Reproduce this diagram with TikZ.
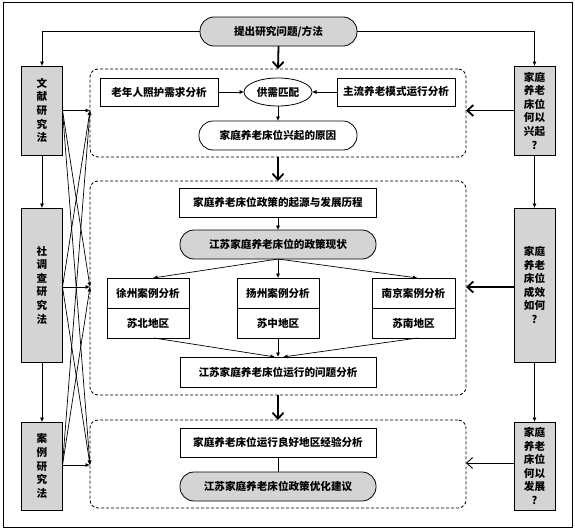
\documentclass[tikz,border=0pt]{standalone}
\usepackage{fontspec}
\newfontfamily\cjk{Noto Sans CJK SC}
\usetikzlibrary{arrows.meta,shapes.geometric}
\definecolor{gfill}{RGB}{212,212,212}
\begin{document}
\begin{tikzpicture}[x=1pt,y=-1pt,line width=0.8pt,
  font=\cjk\bfseries\fontsize{10.6}{13.6}\selectfont,
  every node/.style={inner sep=0pt,outer sep=0pt},
  rbox/.style={draw,fill=white,minimum height=29pt},
  pill/.style={draw,rounded corners=14pt,minimum height=29pt},
  gpill/.style={pill,fill=gfill},
  side/.style={draw,fill=gfill,minimum width=41pt,align=center},
  region/.style={draw,dash pattern=on 3pt off 2pt,rounded corners=8pt,minimum width=376pt},
  thin/.style={-{Latex[length=4.5pt,width=4pt]},line width=0.7pt},
  thick/.style={-{Straight Barb[length=6pt,width=11pt]},line width=1.8pt},
  vee/.style={-{Straight Barb[length=6pt,width=11pt]},line width=0.9pt}]
\useasboundingbox (0,0) rectangle (575,530);
\draw[line width=0.9pt] (3,2) rectangle (572,527);

% top
\node[gpill,minimum width=157pt] (top) at (278.5,31.5) {提出研究问题/方法};

% regions
\node[region,minimum height=88pt] (R1) at (278,113) {};
\node[region,minimum height=214pt] (R2) at (278,288) {};
\node[region,minimum height=88pt] (R3) at (278,464) {};

% left method boxes
\node[side,minimum height=89pt] (L1) at (42,110.5) {文\\献\\研\\究\\法};
\node[side,minimum height=154pt] (L2) at (42,285) {社\\调\\查\\研\\究\\法};
\node[side,minimum height=88pt] (L3) at (42,466) {案\\例\\研\\究\\法};

% right question boxes
\node[side,minimum height=89pt] (Q1) at (534.5,110.5) {家庭\\养老\\床位\\何以\\兴起\\?};
\node[side,minimum height=154pt] (Q2) at (534.5,285) {家庭\\养老\\床位\\成效\\如何\\?};
\node[side,minimum height=88pt] (Q3) at (534.5,466) {家庭\\养老\\床位\\何以\\发展\\?};

% region 1
\node[rbox,minimum width=118pt,minimum height=28pt] (A1) at (159,92) {老年人照护需求分析};
\node[draw,ellipse,minimum width=68pt,minimum height=28pt] (M) at (278,92) {供需匹配};
\node[rbox,minimum width=118pt,minimum height=28pt] (A2) at (396,92) {主流养老模式运行分析};
\node[pill,minimum width=158pt] (B) at (278,135.5) {家庭养老床位兴起的原因};

% region 2
\node[rbox,minimum width=197pt] (C1) at (278,202.5) {家庭养老床位政策的起源与发展历程};
\node[gpill,minimum width=196pt] (C2) at (278,244.5) {江苏家庭养老床位的政策现状};
\node[rbox,minimum width=82pt,minimum height=30pt] (X1t) at (148,293) {徐州案例分析};
\node[rbox,minimum width=82pt,minimum height=30pt] (X1b) at (148,323) {苏北地区};
\node[rbox,minimum width=82pt,minimum height=30pt] (X2t) at (278,293) {扬州案例分析};
\node[rbox,minimum width=82pt,minimum height=30pt] (X2b) at (278,323) {苏中地区};
\node[rbox,minimum width=83pt,minimum height=30pt] (X3t) at (413.5,293) {南京案例分析};
\node[rbox,minimum width=83pt,minimum height=30pt] (X3b) at (413.5,323) {苏南地区};
\node[rbox,minimum width=196pt,minimum height=30pt] (C3) at (278,372) {江苏家庭养老床位运行的问题分析};

% region 3
\node[rbox,minimum width=196pt] (D1) at (278,442.5) {家庭养老床位运行良好地区经验分析};
\node[gpill,minimum width=196pt] (D2) at (278,486.5) {江苏家庭养老床位政策优化建议};

% top connections
\draw[thin] (top.west) -| (L1.north);
\draw[thin] (top.east) -| (Q1.north);
\draw[thin] (L1.south) -- (L2.north);
\draw[thin] (L2.south) -- (L3.north);
\draw[thin] (Q1.south) -- (Q2.north);
\draw[thin] (Q2.south) -- (Q3.north);

% thick flow arrows
\draw[thick] (top.south) -- (R1.north);
\draw[thick] (R1.south) -- (R2.north);
\draw[thick] (R2.south) -- (R3.north);

% right to regions
\coordinate (u1) at (Q1.west -| R1.east);
\coordinate (u2) at ([yshift=-2pt]Q2.west -| R2.east);
\coordinate (u3) at ([yshift=3pt]Q3.west -| R3.east);
\draw[thick] (Q1.west) -- (u1);
\draw[thick] ([yshift=-2pt]Q2.west) -- (u2);
\draw[vee] ([yshift=3pt]Q3.west) -- (u3);

% left to regions
\coordinate (t1) at (L1.east -| R1.west);
\coordinate (t2) at ([yshift=-2pt]L2.east -| R2.west);
\coordinate (t3) at ([yshift=1pt]L3.east -| R3.west);
\coordinate (s1) at (L1.east);
\coordinate (s2) at ([yshift=-2pt]L2.east);
\coordinate (s3) at ([yshift=1pt]L3.east);
\foreach \s in {s1,s2,s3}{
  \foreach \t in {t1,t2,t3}{
    \draw[thin] (\s) -- (\t);
  }
}

% region 1 inner
\draw[thin] (A1.east) -- (M.west);
\draw[thin] (A2.west) -- (M.east);
\draw[thin] (M.south) -- (B.north);

% region 2 inner
\draw[thin] (C1.south) -- (C2.north);
\draw[thin] (C2.south) -- ([xshift=5pt]X1t.north);
\draw[thin] (C2.south) -- (X2t.north);
\draw[thin] (C2.south) -- ([xshift=4pt]X3t.north);
\draw[thin] ([xshift=6pt]X1b.south) -- ([xshift=-3pt]C3.north);
\draw[thin] (X2b.south) -- (C3.north);
\draw[thin] ([xshift=4pt]X3b.south) -- ([xshift=5pt]C3.north);

% region 3 inner
\draw (D1.south) -- (D2.north);
\end{tikzpicture}
\end{document}
